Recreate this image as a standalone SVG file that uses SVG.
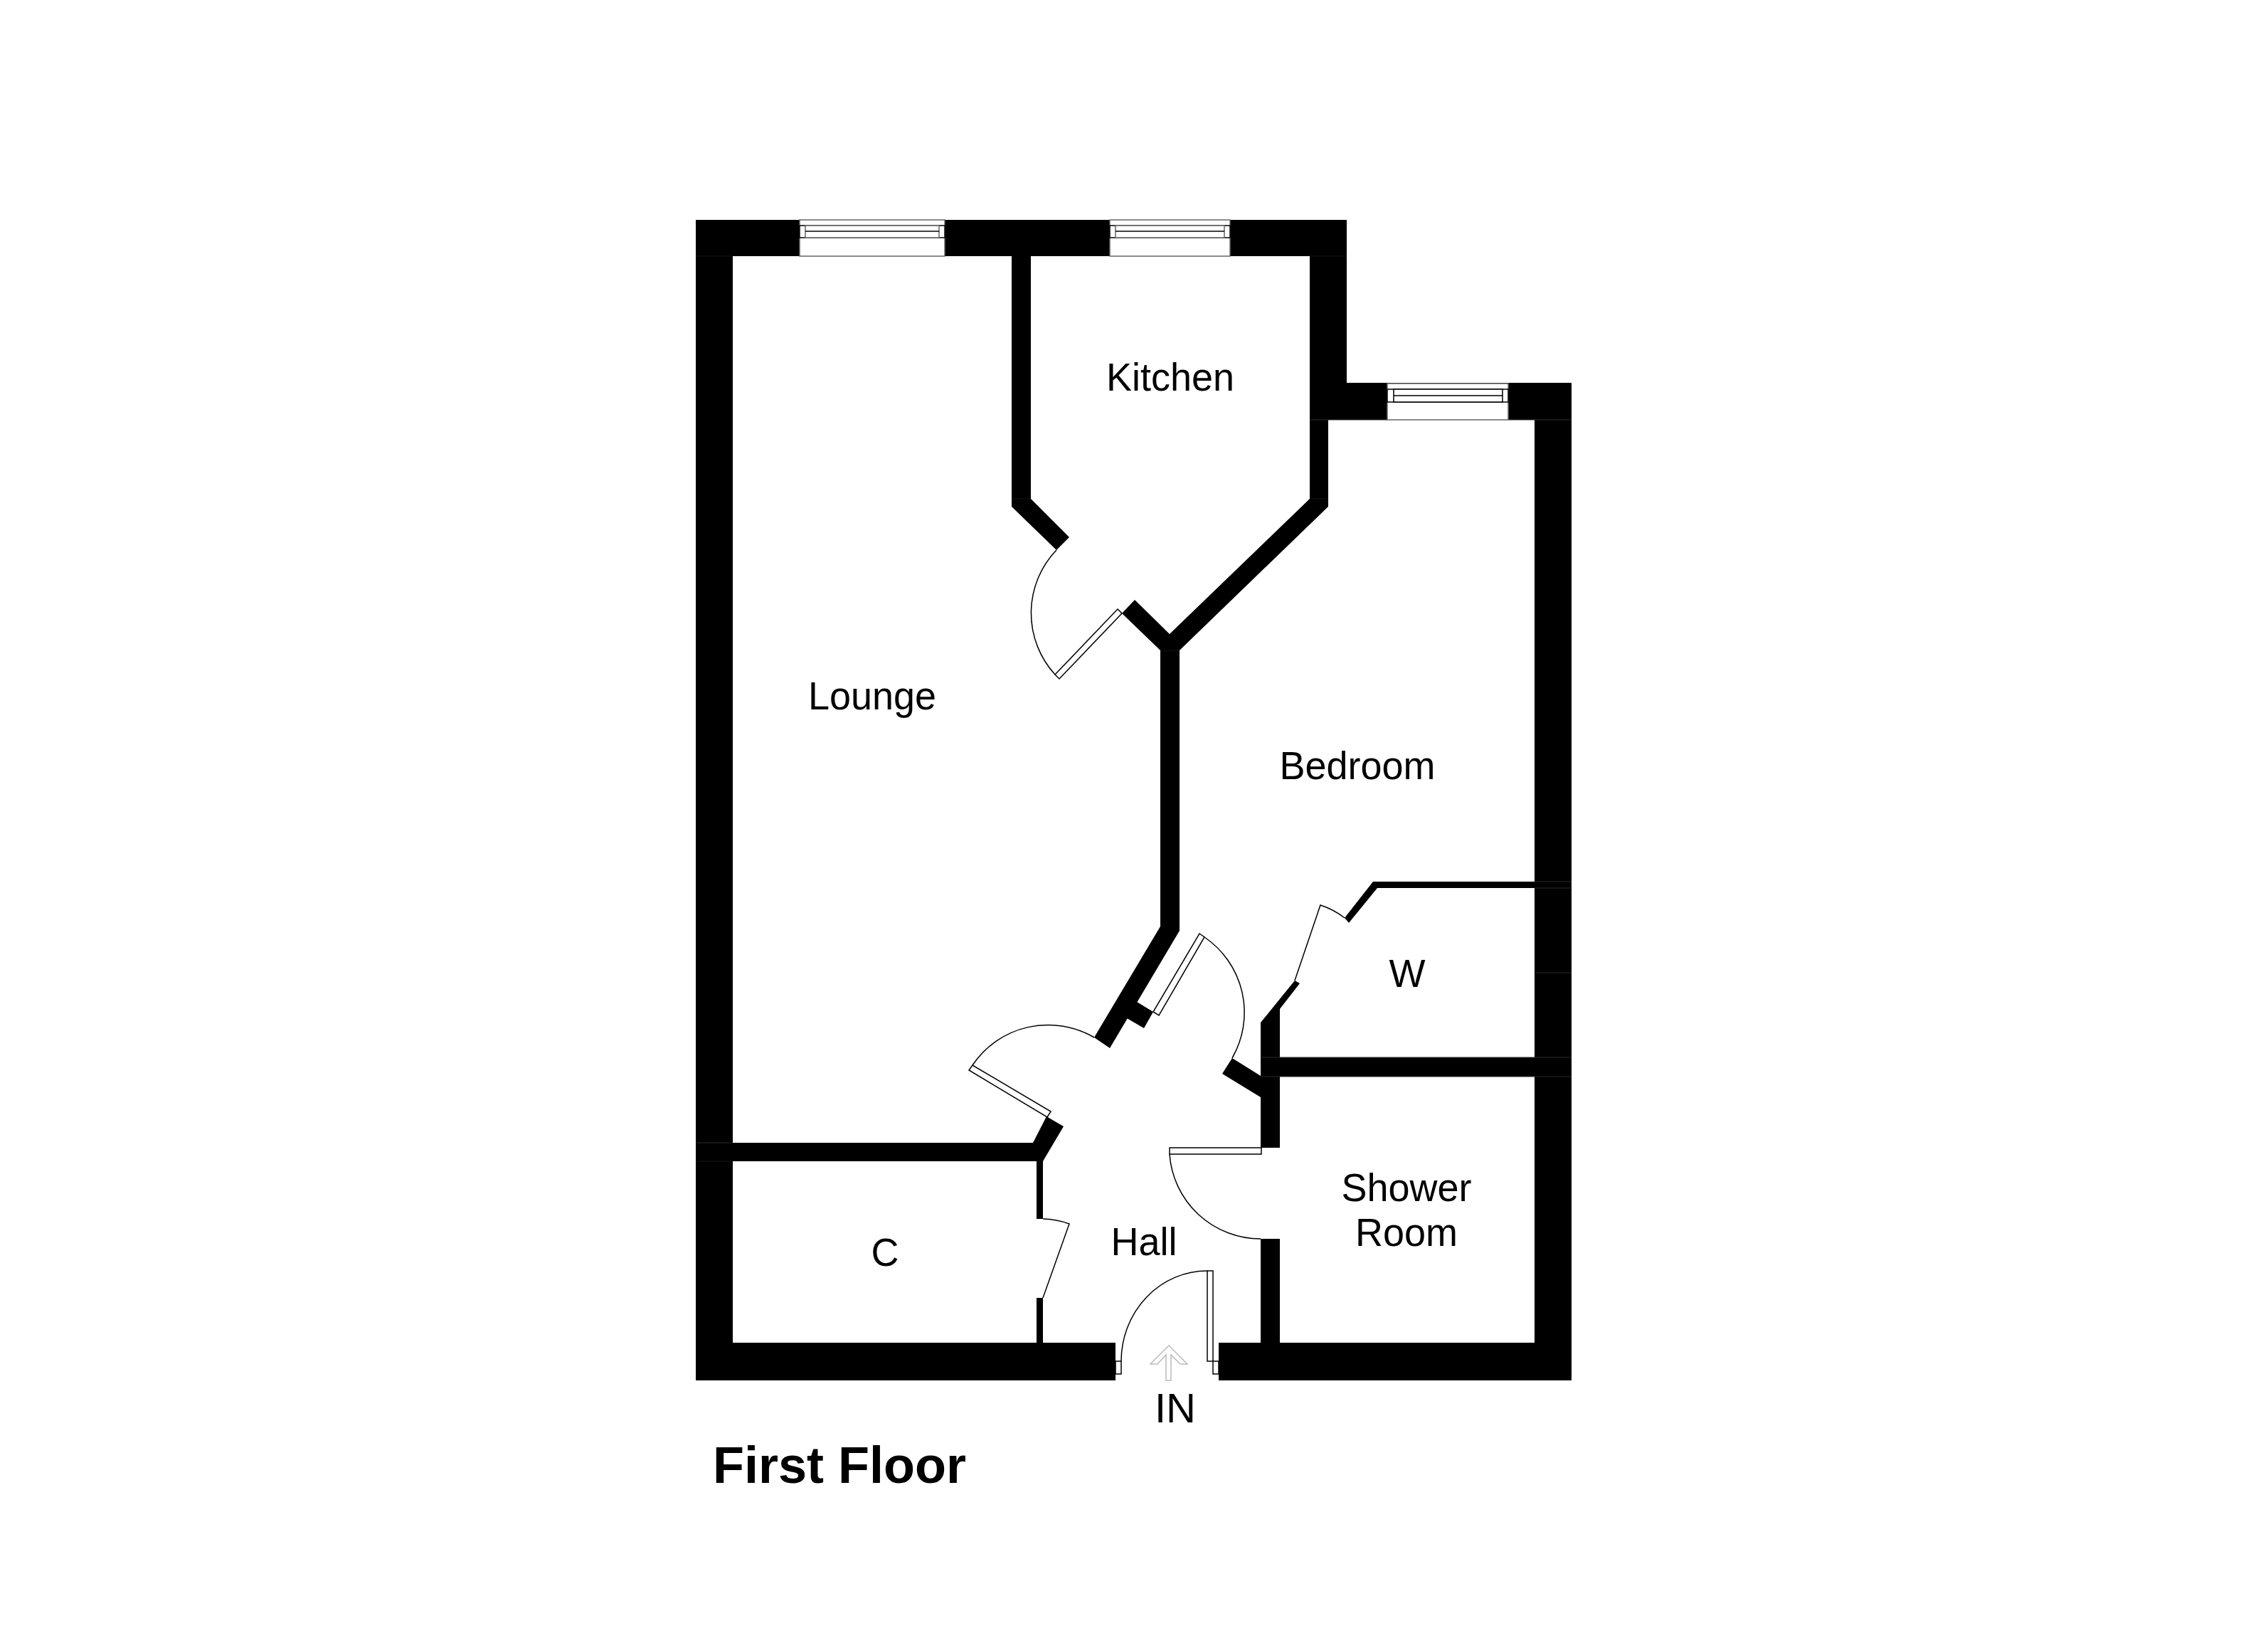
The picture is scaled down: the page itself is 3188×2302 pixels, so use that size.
<svg xmlns="http://www.w3.org/2000/svg" width="3188" height="2302" viewBox="0 0 3188 2302">
<style>
.w{fill:#000;stroke:none}
.l{fill:#fff;stroke:#000;stroke-width:1.5}
.o{fill:#fff;stroke:#666;stroke-width:1.5}
.a{fill:none;stroke:#000;stroke-width:1.5}
.g{fill:#fff;stroke:#bbb;stroke-width:1.5}
.s{fill:none;stroke:#2c2c2c;stroke-width:1}
.f{fill:none;stroke:#141414;stroke-width:1}
text{font-family:"Liberation Sans",Arial,sans-serif;font-size:55px;fill:#000;text-anchor:middle}
</style>
<rect width="3188" height="2302" fill="#fff"/>
<g id="walls">
<rect class="w" x="978" y="309" width="915" height="51"/>
<rect class="w" x="978" y="309" width="52" height="1631"/>
<rect class="w" x="978" y="1887" width="590" height="53"/>
<rect class="w" x="1713" y="1887" width="496" height="53"/>
<rect class="w" x="2157" y="538" width="52" height="1402"/>
<rect class="w" x="1841" y="538" width="368" height="52"/>
<rect class="w" x="1841" y="309" width="52" height="281"/>
<path class="w" d="M1422 360H1449V701L1503 755L1485 773L1422 712Z"/>
<path class="w" d="M1841 590H1867V712L1658 914V1308L1560 1473L1538 1458L1631 1302V914L1577 862L1595 843L1644 891L1841 701Z"/>
<path class="w" d="M1598 1408L1621 1422L1608 1445L1584 1431Z"/>
<path class="w" d="M978 1606H1452L1471 1569L1495 1583L1466 1632V1713H1457V1632H978Z"/>
<rect class="w" x="1457" y="1824" width="9" height="63"/>
<path class="w" d="M1732 1487L1772 1512V1486H2209V1513H1799V1613H1772V1542L1718 1509Z"/>
<rect class="w" x="1772" y="1741" width="27" height="146"/>
<path class="w" d="M1772 1437L1820 1378L1827 1382L1799 1418V1486H1772Z"/>
<path class="w" d="M1890 1290L1930 1239H2157V1248H1936L1896 1297Z"/>
</g>
<g id="wall-seams">
<path class="s" d="M1841 590H1950M2120 590H2209M2157 1239H2209M2157 1248H2209M2157 1367H2209M1772 1486H2209M1772 1513H2209M978 1606H1030"/>
<path class="f" d="M978 360H1030M1841 360H1893M978 1632H1030M1422 701H1449M1841 701H1867M1631 914H1658"/>
</g>
<g id="windows">
<g id="window-lounge">
<rect class="o" x="1124" y="309" width="204" height="51"/>
<rect class="l" x="1124" y="317" width="204" height="17"/>
<rect class="o" x="1132" y="317" width="188" height="17"/>
<path class="a" d="M1132 325H1320"/>
</g>
<g id="window-kitchen">
<rect class="o" x="1560" y="309" width="169" height="51"/>
<rect class="l" x="1560" y="317" width="169" height="17"/>
<rect class="o" x="1568" y="317" width="153" height="17"/>
<path class="a" d="M1568 325H1721"/>
</g>
<g id="window-bedroom">
<rect class="o" x="1950" y="539" width="170" height="51"/>
<rect class="l" x="1950" y="547" width="170" height="18"/>
<rect class="l" x="1959" y="547" width="153" height="18"/>
<path class="a" d="M1959 556H2112"/>
</g>
</g>
<g id="doors">
<g id="door-kitchen">
<path class="l" d="M1571 856L1577 862L1489 954L1483 948Z"/>
<path class="a" d="M1485 773A128 128 0 0 0 1483 948"/>
</g>
<g id="door-lounge">
<path class="l" d="M1477 1562L1472 1570L1362 1504L1367 1497Z"/>
<path class="a" d="M1367 1497A128 128 0 0 1 1538 1458"/>
</g>
<g id="door-bedroom">
<path class="l" d="M1686 1312L1693 1317L1629 1427L1621 1422Z"/>
<path class="a" d="M1693 1317A128 128 0 0 1 1732 1487"/>
</g>
<g id="door-wardrobe">
<path class="a" d="M1820 1378L1856 1272A111 111 0 0 1 1890 1290"/>
</g>
<g id="door-shower">
<rect class="l" x="1644" y="1613" width="129" height="9"/>
<path class="a" d="M1644 1622A128 128 0 0 0 1772 1741"/>
</g>
<g id="door-cupboard">
<path class="a" d="M1466 1713A111 111 0 0 1 1503 1720L1466 1824"/>
</g>
<g id="door-entrance">
<rect class="l" x="1568" y="1913" width="8" height="18"/>
<rect class="l" x="1705" y="1913" width="8" height="18"/>
<rect class="l" x="1697" y="1786" width="8" height="127"/>
<path class="a" d="M1576 1913A121 127 0 0 1 1697 1786"/>
</g>
</g>
<g id="entry-arrow">
<path class="g" d="M1643 1891L1669 1917H1659L1646 1904V1940H1639V1904L1627 1917H1617Z"/>
</g>
<g id="labels">
<text x="1645" y="549" textLength="180" lengthAdjust="spacingAndGlyphs">Kitchen</text>
<text x="1226" y="997" textLength="180" lengthAdjust="spacingAndGlyphs">Lounge</text>
<text x="1908" y="1095" textLength="219" lengthAdjust="spacingAndGlyphs">Bedroom</text>
<text x="1978" y="1387" textLength="51" lengthAdjust="spacingAndGlyphs">W</text>
<text x="1977" y="1688" textLength="183" lengthAdjust="spacingAndGlyphs">Shower</text>
<text x="1977" y="1751" textLength="144" lengthAdjust="spacingAndGlyphs">Room</text>
<text x="1244" y="1779" textLength="39" lengthAdjust="spacingAndGlyphs">C</text>
<text x="1608" y="1764" textLength="93" lengthAdjust="spacingAndGlyphs">Hall</text>
<text x="1652" y="1999" style="font-size:58px">IN</text>
<text x="1180" y="2084" style="font-size:72px;font-weight:700">First Floor</text>
</g>
</svg>
